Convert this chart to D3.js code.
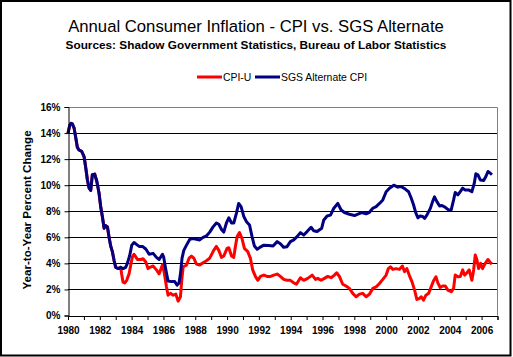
<!DOCTYPE html>
<html><head><meta charset="utf-8">
<script src="https://cdn.jsdelivr.net/npm/d3@7/dist/d3.min.js"></script>
<style>html,body{margin:0;padding:0;background:#fff;}svg{display:block;font-family:"Liberation Sans",Arial,sans-serif;}</style>
</head><body><svg id="c" width="513" height="357"></svg>
<script>
const title = "Annual Consumer Inflation - CPI vs. SGS Alternate";
const subtitle = "Sources: Shadow Government Statistics, Bureau of Labor Statistics";
const yAxisTitle = "Year-to-Year Percent Change";
const seriesNames = ["CPI-U", "SGS Alternate CPI"];
const yTicks = [0, 2, 4, 6, 8, 10, 12, 14, 16];
const xLabelYears = [1980,1982,1984,1986,1988,1990,1992,1994,1996,1998,2000,2002,2004,2006];

const sgsYears = [1980.00,1980.11,1980.19,1980.27,1980.38,1980.48,1980.59,1980.69,1980.86,1981.01,1981.11,1981.22,1981.32,1981.43,1981.53,1981.68,1981.81,1981.95,1982.06,1982.16,1982.27,1982.37,1982.48,1982.58,1982.69,1982.79,1982.90,1983.00,1983.17,1983.31,1983.46,1983.63,1983.73,1983.88,1984.01,1984.15,1984.26,1984.47,1984.68,1984.89,1985.10,1985.35,1985.56,1985.73,1985.94,1986.02,1986.15,1986.29,1986.50,1986.71,1986.86,1986.98,1987.07,1987.17,1987.28,1987.45,1987.66,1987.87,1988.07,1988.28,1988.49,1988.70,1988.91,1989.12,1989.33,1989.48,1989.65,1989.79,1989.96,1990.11,1990.28,1990.42,1990.59,1990.73,1990.88,1991.05,1991.22,1991.41,1991.57,1991.72,1991.89,1992.06,1992.31,1992.62,1992.89,1993.15,1993.35,1993.56,1993.77,1993.98,1994.19,1994.40,1994.61,1994.82,1995.03,1995.28,1995.45,1995.66,1995.95,1996.08,1996.29,1996.50,1996.71,1996.96,1997.17,1997.38,1997.69,1998.01,1998.26,1998.47,1998.74,1998.95,1999.16,1999.37,1999.58,1999.79,2000.00,2000.21,2000.48,2000.73,2000.94,2001.20,2001.41,2001.58,2001.72,2001.87,2002.00,2002.14,2002.29,2002.42,2002.56,2002.77,2002.92,2003.04,2003.19,2003.36,2003.51,2003.72,2003.92,2004.09,2004.24,2004.34,2004.51,2004.66,2004.81,2004.97,2005.18,2005.39,2005.54,2005.64,2005.77,2005.92,2006.13,2006.27,2006.40,2006.55,2006.65];
const sgsValues = [14.0,14.6,14.75,14.7,14.4,13.7,12.9,12.7,12.6,12.2,11.4,10.4,9.8,9.6,10.8,10.85,10.3,9.4,8.3,7.6,6.7,6.9,6.8,6.0,5.3,4.9,4.2,3.7,3.6,3.7,3.6,3.7,4.0,4.6,5.4,5.6,5.5,5.3,5.3,5.1,4.7,4.77,4.46,4.3,4.7,4.46,3.5,2.64,2.6,2.6,2.33,2.5,3.2,4.4,5.0,5.4,5.85,5.9,5.85,5.8,6.0,6.1,6.4,6.8,7.1,7.0,6.6,6.4,7.1,7.5,7.1,7.1,7.85,8.6,8.36,7.6,7.2,6.95,6.05,5.33,5.08,5.23,5.4,5.38,5.33,5.67,5.5,5.23,5.28,5.67,5.8,6.05,6.36,6.18,6.44,6.77,6.5,6.44,6.7,7.33,7.64,7.7,8.23,8.6,8.1,7.9,7.77,7.67,7.8,7.9,7.8,7.92,8.23,8.36,8.6,8.87,9.5,9.77,10.0,9.85,9.9,9.7,9.5,9.0,8.5,7.85,7.5,7.64,7.6,7.46,7.7,8.2,8.74,9.1,8.74,8.4,8.44,8.3,8.1,8.1,8.87,9.44,9.26,9.5,9.77,9.64,9.64,9.5,10.15,10.87,10.8,10.4,10.36,10.67,11.05,10.92,10.8];

const cpiYears = [1980.00,1980.11,1980.19,1980.27,1980.38,1980.48,1980.59,1980.69,1980.86,1981.01,1981.11,1981.22,1981.32,1981.43,1981.53,1981.68,1981.81,1981.95,1982.06,1982.16,1982.27,1982.37,1982.48,1982.58,1982.69,1982.79,1982.90,1983.00,1983.17,1983.31,1983.37,1983.46,1983.57,1983.69,1983.84,1983.94,1984.05,1984.15,1984.26,1984.36,1984.57,1984.72,1984.89,1985.03,1985.14,1985.35,1985.56,1985.73,1985.94,1986.06,1986.19,1986.29,1986.44,1986.61,1986.78,1986.92,1987.07,1987.15,1987.24,1987.45,1987.61,1987.76,1987.91,1988.07,1988.28,1988.49,1988.70,1988.91,1989.16,1989.33,1989.48,1989.65,1989.79,1990.00,1990.11,1990.28,1990.42,1990.52,1990.63,1990.78,1990.94,1991.09,1991.30,1991.47,1991.61,1991.78,1991.93,1992.10,1992.31,1992.52,1992.73,1992.94,1993.15,1993.35,1993.56,1993.77,1993.98,1994.19,1994.36,1994.61,1994.82,1995.07,1995.35,1995.56,1995.70,1995.91,1996.12,1996.33,1996.54,1996.75,1996.89,1997.06,1997.27,1997.48,1997.69,1997.90,1998.11,1998.32,1998.53,1998.74,1998.95,1999.16,1999.37,1999.58,1999.79,2000.00,2000.14,2000.27,2000.42,2000.63,2000.84,2001.02,2001.16,2001.30,2001.45,2001.62,2001.79,2001.93,2002.08,2002.21,2002.35,2002.50,2002.67,2002.83,2002.98,2003.13,2003.25,2003.40,2003.55,2003.72,2003.88,2004.09,2004.24,2004.34,2004.51,2004.66,2004.81,2004.93,2005.08,2005.22,2005.39,2005.50,2005.60,2005.71,2005.81,2005.94,2006.06,2006.23,2006.40,2006.55,2006.65];
const cpiValues = [14.0,14.6,14.75,14.7,14.4,13.7,12.9,12.7,12.6,12.2,11.4,10.4,9.8,9.6,10.8,10.85,10.3,9.4,8.3,7.6,6.7,6.9,6.8,6.0,5.3,4.9,4.2,3.7,3.6,3.7,3.2,2.56,2.5,2.7,3.2,3.85,4.5,4.7,4.5,4.3,4.3,4.35,4.1,3.6,3.7,3.8,3.5,3.2,3.9,3.2,2.2,1.56,1.7,1.56,1.64,1.1,1.44,2.7,3.74,3.87,4.4,4.56,4.4,3.95,3.87,4.05,4.2,4.4,5.0,5.3,5.0,4.46,4.56,5.15,5.2,4.56,4.46,5.28,6.05,6.36,5.9,5.15,4.9,4.38,3.5,3.0,2.7,3.0,3.1,3.0,3.0,3.1,3.18,3.0,2.77,2.7,2.7,2.5,2.4,2.9,2.7,2.85,3.1,2.77,2.85,2.7,2.85,3.0,2.9,3.1,3.28,3.0,2.4,2.26,2.08,1.7,1.44,1.64,1.7,1.44,1.64,2.08,2.2,2.46,2.77,3.1,3.6,3.74,3.54,3.6,3.54,3.8,3.36,3.6,3.1,2.6,1.95,1.23,1.3,1.44,1.18,1.56,1.7,2.2,2.67,2.97,2.5,2.15,2.26,2.26,1.95,1.82,2.08,3.1,2.97,3.0,3.5,3.1,3.28,3.5,2.7,3.5,4.64,4.26,3.6,4.0,3.6,4.0,4.3,4.05,3.95];

const svg = d3.select("#c");
const L = 68, R = 497.5, T = 107, B = 315.5;
const x = d3.scaleLinear().domain([1980, 2007]).range([L, R]);
const y = d3.scaleLinear().domain([0, 16]).range([B, T]);

// outer frame
svg.append("rect").attr("x",1).attr("y",1).attr("width",509.5).attr("height",354.5)
  .attr("fill","#fff").attr("stroke","#000").attr("stroke-width",2);

// titles
svg.append("text").attr("x",256).attr("y",32).attr("text-anchor","middle")
  .attr("font-size","16.7px").attr("fill","#000").text(title);
svg.append("text").attr("x",256).attr("y",49).attr("text-anchor","middle")
  .attr("font-size","11.8px").attr("font-weight","bold").attr("fill","#000").text(subtitle);

// legend
const colors = ["#ff0000", "#000080"];
const legX = [197, 255];
seriesNames.forEach((n,i)=>{
  svg.append("line").attr("x1",legX[i]).attr("x2",legX[i]+25).attr("y1",77).attr("y2",77)
    .attr("stroke",colors[i]).attr("stroke-width",3);
  svg.append("text").attr("x",legX[i]+26).attr("y",81).attr("font-size","10.4px").attr("fill","#000").text(n);
});

// gridlines
svg.append("g").selectAll("line").data(yTicks.filter(v=>v>0&&v<16)).join("line")
  .attr("x1",L).attr("x2",R).attr("y1",d=>Math.round(y(d))+0.5).attr("y2",d=>Math.round(y(d))+0.5)
  .attr("stroke","#000").attr("stroke-width",1);
// plot border top/right gray
svg.append("path").attr("d",`M${L},${T+0.5}H${R}V${B}`).attr("fill","none").attr("stroke","#808080").attr("stroke-width",1);

// lines
const line = d3.line().x(d=>x(d[0])).y(d=>y(d[1]));
const cpiData = cpiYears.map((t,i)=>[t,cpiValues[i]]);
const sgsData = sgsYears.map((t,i)=>[t,sgsValues[i]]);
svg.append("path").datum(cpiData).attr("d",line).attr("fill","none").attr("stroke",colors[0]).attr("stroke-width",3).attr("stroke-linejoin","round");
svg.append("path").datum(sgsData).attr("d",line).attr("fill","none").attr("stroke",colors[1]).attr("stroke-width",3).attr("stroke-linejoin","round");

// y axis
const yAxis = d3.axisLeft(y).tickValues(yTicks).tickSize(4).tickPadding(4).tickFormat(d=>d+"%");
const gy = svg.append("g").attr("transform",`translate(${L+0.5},0)`).call(yAxis);
gy.select(".domain").attr("stroke","#000");
gy.selectAll("text").attr("font-size","10px").attr("font-weight","bold").attr("fill","#000").attr("font-family","Liberation Sans, Arial, sans-serif");

// x axis
const yearTicks = d3.range(1980, 2008);
const xAxis = d3.axisBottom(x).tickValues(yearTicks).tickSize(4).tickPadding(7)
  .tickFormat(d=>xLabelYears.includes(d)?String(d):"");
const gx = svg.append("g").attr("transform",`translate(0,${B+0.5})`).call(xAxis);
gx.select(".domain").attr("stroke","#000");
gx.selectAll("text").attr("font-size","10px").attr("font-weight","bold").attr("fill","#000").attr("font-family","Liberation Sans, Arial, sans-serif");

// y title
svg.append("text").attr("transform",`translate(31,210) rotate(-90)`).attr("text-anchor","middle")
  .attr("font-size","11.6px").attr("font-weight","bold").attr("fill","#000").text(yAxisTitle);
</script></body></html>
